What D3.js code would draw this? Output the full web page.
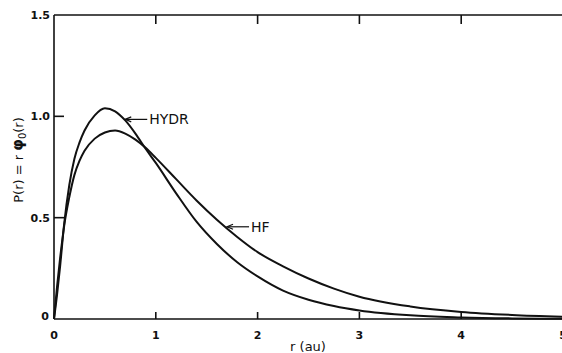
<!DOCTYPE html>
<html>
<head>
<meta charset="utf-8">
<script src="https://cdn.jsdelivr.net/npm/d3@7"></script>
<style>
  body { margin: 0; background: #fff; }
  svg { display: block; }
  text { font-family: 'DejaVu Sans', sans-serif; fill: #111; }
</style>
</head>
<body>
<figure id="graph1" style="margin:0"></figure>
<script>
// radial distance r (au)
const rValues = [0, 0.03, 0.06, 0.1, 0.15, 0.2, 0.25, 0.3, 0.4, 0.5, 0.6, 0.7, 0.8, 0.9, 1.0,
  1.2, 1.4, 1.6, 1.8, 2.0, 2.25, 2.5, 2.75, 3.0, 3.5, 4.0, 4.5, 5.0];
// P(r)
const hydrValues = [0, 0.12, 0.26, 0.47, 0.66, 0.79, 0.87, 0.93, 1.005, 1.04, 1.025, 0.98, 0.915, 0.84, 0.77,
  0.62, 0.48, 0.37, 0.28, 0.21, 0.14, 0.095, 0.064, 0.042, 0.018, 0.008, 0.003, 0.001];
const hfValues = [0, 0.16, 0.3, 0.46, 0.6, 0.71, 0.78, 0.83, 0.89, 0.92, 0.93, 0.915, 0.885, 0.845, 0.795,
  0.69, 0.585, 0.49, 0.405, 0.33, 0.26, 0.2, 0.15, 0.11, 0.062, 0.035, 0.02, 0.011];
const xTicks = [0, 1, 2, 3, 4, 5];
const yTicks = [0, 0.5, 1.0, 1.5];
const yTickLabels = ['0', '0.5', '1.0', '1.5'];
const notes = [
  { name: 'HYDR', r: 0.69, p: 0.985 },
  { name: 'HF', r: 1.69, p: 0.455 }
];

const width = 562;
const height = 353;

const x = d3.scaleLinear().domain([0, 5]).range([54, 563]);
const y = d3.scaleLinear().domain([0, 1.5]).range([319, 15]);

const svg = d3.select('figure#graph1')
  .append('svg')
  .attr('width', width)
  .attr('height', height);

// frame: left axis, top line, bottom axis
const frame = svg.append('g')
  .attr('stroke', '#111')
  .attr('stroke-width', 1.6)
  .attr('fill', 'none');
frame.append('line').attr('x1', x(0)).attr('x2', x(0)).attr('y1', y(1.5)).attr('y2', y(0));
frame.append('line').attr('x1', x(0)).attr('x2', width).attr('y1', y(1.5)).attr('y2', y(1.5));
frame.append('line').attr('x1', x(0)).attr('x2', width).attr('y1', y(0)).attr('y2', y(0));

// inner ticks
const inner = xTicks.filter(d => d > 0 && d < 5);
frame.selectAll('.tb')
  .data(inner)
  .join('line')
  .attr('x1', d => x(d)).attr('x2', d => x(d))
  .attr('y1', y(0)).attr('y2', y(0) - 7);
frame.selectAll('.tt')
  .data(inner)
  .join('line')
  .attr('x1', d => x(d)).attr('x2', d => x(d))
  .attr('y1', y(1.5)).attr('y2', y(1.5) + 9);
frame.selectAll('.ty')
  .data(yTicks.filter(d => d > 0 && d < 1.5))
  .join('line')
  .attr('x1', x(0)).attr('x2', x(0) + 10)
  .attr('y1', d => y(d)).attr('y2', d => y(d));

// tick labels
svg.append('g')
  .selectAll('text')
  .data(xTicks)
  .join('text')
  .attr('x', d => x(d))
  .attr('y', 339)
  .attr('text-anchor', 'middle')
  .style('font-size', '11px')
  .style('font-weight', 'bold')
  .text(d => d);

svg.append('g')
  .selectAll('text')
  .data(yTicks)
  .join('text')
  .attr('x', (d, i) => i === 0 ? 49 : 50)
  .attr('y', d => y(d) + (d === 0 ? 1 : 4))
  .attr('text-anchor', 'end')
  .style('font-size', '11px')
  .style('font-weight', 'bold')
  .text((d, i) => yTickLabels[i]);

// axis titles
svg.append('text')
  .attr('x', 308)
  .attr('y', 351)
  .attr('text-anchor', 'middle')
  .style('font-size', '13px')
  .text('r (au)');

const yt = svg.append('text')
  .attr('transform', 'translate(23,160) rotate(-90)')
  .attr('text-anchor', 'middle')
  .style('font-size', '13px');
yt.append('tspan').text('P(r) = r ');
yt.append('tspan').style('font-weight', 'bold').style('font-size', '15px').text('φ');
yt.append('tspan').style('font-size', '10px').attr('dy', 3).text('0');
yt.append('tspan').attr('dy', -3).text('(r)');

// curves
const line = d3.line()
  .x(d => x(d[0]))
  .y(d => y(d[1]))
  .curve(d3.curveMonotoneX);

svg.append('g')
  .attr('fill', 'none')
  .attr('stroke', '#111')
  .attr('stroke-width', 2)
  .selectAll('path')
  .data([hydrValues, hfValues])
  .join('path')
  .attr('d', vals => line(rValues.map((r, i) => [r, vals[i]])));

// labels with arrows
const note = svg.append('g')
  .selectAll('g')
  .data(notes)
  .join('g')
  .attr('transform', d => `translate(${ x(d.r) },${ y(d.p) })`);
note.append('line')
  .attr('x1', 1).attr('x2', 23).attr('y1', 0).attr('y2', 0)
  .attr('stroke', '#111').attr('stroke-width', 1.2);
note.append('path')
  .attr('d', 'M7,-2.5 L1,0 L7,2.5')
  .attr('fill', 'none')
  .attr('stroke', '#111').attr('stroke-width', 1.2);
note.append('text')
  .attr('x', 25)
  .attr('y', 5)
  .style('font-size', '14px')
  .text(d => d.name);
</script>
</body>
</html>
